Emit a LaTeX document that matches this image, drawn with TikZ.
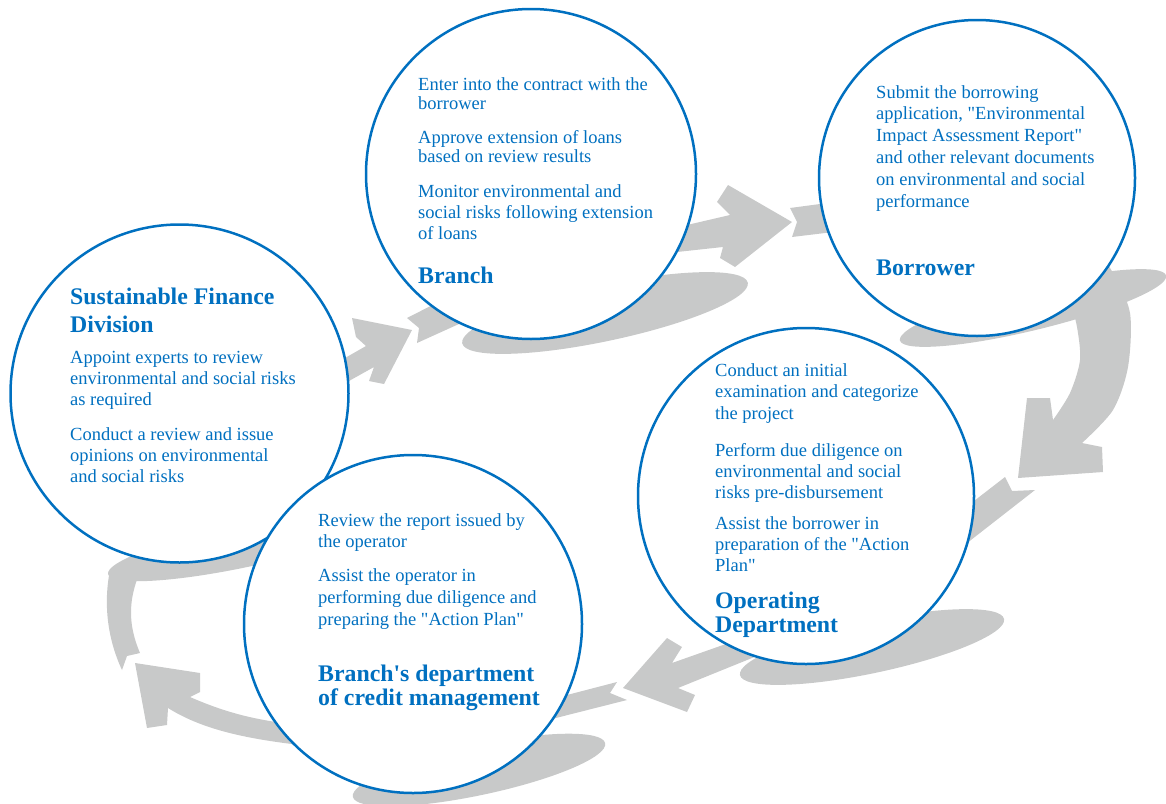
\documentclass[tikz,border=0pt]{standalone}
\usepackage{fontspec}
\setmainfont{Liberation Serif}[Ligatures=TeXOff]
\definecolor{cblue}{RGB}{0,112,192}
\definecolor{cgray}{RGB}{200,201,201}
\begin{document}
\begin{tikzpicture}[x=1pt,y=-1pt,
  greyfill/.style={fill=cgray, draw=none},
  ring/.style={draw=cblue, line width=2.5pt, fill=white},
  txtbody/.style={anchor=base west, inner sep=0pt, align=left, text=cblue, font=\fontsize{18.5}{21}\selectfont},
  txthead/.style={anchor=base west, inner sep=0pt, align=left, text=cblue, font=\bfseries\fontsize{23.8}{26}\selectfont}]
\useasboundingbox (0,0) rectangle (1166,803);

% shadows
\fill[greyfill, rotate around={12:(605,313)}] (605,313) ellipse [x radius=146, y radius=28];
\fill[greyfill, rotate around={13.7:(1033,308)}] (1033,308) ellipse [x radius=137, y radius=22];
\fill[greyfill, rotate around={12:(872,647)}] (872,647) ellipse [x radius=135, y radius=26];
\fill[greyfill, rotate around={12:(479,770)}] (479,770) ellipse [x radius=129, y radius=25];
\fill[greyfill, rotate around={12:(245,545)}] (245,545) ellipse [x radius=140, y radius=22];

% arrow A : SFD -> Branch
\fill[greyfill] (412,330) -- (384,384) -- (369,381) -- (374,367) -- (340,386) -- (338,362) -- (366,346) -- (356,337) -- (352,318) -- cycle;
\fill[greyfill] (407,318) -- (419,328) -- (417,343) -- (470,319) -- (458,292) -- cycle;
% arrow B : Branch -> Borrower
\fill[greyfill] (792,222) -- (735,267) -- (720,258) -- (723,247) -- (677,252) -- (640,262) -- (640,235) -- (687,225) -- (730,215) -- (717,202) -- (728,185) -- cycle;
\fill[greyfill] (790,208) -- (797,222) -- (792,237) -- (850,230) -- (850,200) -- cycle;
% arrow C : Borrower -> Operating
\fill[greyfill] (1018,478) -- (1027,398) -- (1050,398) -- (1053,420)
  -- plot[smooth] coordinates {(1053,420) (1070,393) (1080,360) (1077,327) (1070,300)}
  -- (1100,255)
  -- plot[smooth] coordinates {(1100,255) (1113,273) (1130,313) (1128,367) (1113,410) (1082,443)}
  -- (1102,447) -- (1103,472) -- cycle;
\fill[greyfill] (1005,477) -- (1012,491) -- (1035,490) -- (953,554) -- (943,525) -- cycle;
% arrow D : Operating -> Branch's department
\fill[greyfill] (623,688) -- (667,638) -- (682,647) -- (672,663) -- (723,645) -- (760,632) -- (780,647) -- (752,658) -- (678,688) -- (695,695) -- (687,712) -- cycle;
\fill[greyfill] (617,682) -- (610,693) -- (627,700) -- (540,722) -- (540,702) -- cycle;
% arrow E : Branch's department -> SFD
\fill[greyfill] (135,663) -- (200,673) -- (200,692) -- (190,697) .. controls (220,710) and (250,720) .. (300,725) -- (300,745) .. controls (240,738) and (200,728) .. (168,708) -- (167,725) -- (147,728) -- cycle;
\fill[greyfill] (122,670) -- (127,656) -- (140,653) .. controls (128,625) and (128,600) .. (140,572) -- (110,570) .. controls (103,605) and (108,640) .. (122,670) -- cycle;

% circles
\draw[ring] (531,174) circle [radius=165];
\draw[ring] (977,178) circle [radius=158];
\draw[ring] (806,496) circle [radius=168];
\draw[ring] (179.5,393.5) circle [radius=169];
\draw[ring] (413,624) circle [radius=169];

% Branch
\node[txtbody, font=\fontsize{18.5}{19}\selectfont] (br1) at (418,109) {Enter into the contract with the\\borrower};
\node[txtbody, font=\fontsize{18.5}{19}\selectfont] (br2) at (418,162) {Approve extension of loans\\based on review results};
\node[txtbody] (br3) at (418,239) {Monitor environmental and\\social risks following extension\\of loans};
\node[txthead] (brh) at (418,283) {Branch};

% Borrower
\node[txtbody, font=\fontsize{18.5}{21.8}\selectfont] (bo1) at (876,207) {Submit the borrowing\\application, "Environmental\\Impact Assessment Report"\\and other relevant documents\\on environmental and social\\performance};
\node[txthead] (boh) at (876,275) {Borrower};

% Sustainable Finance Division
\node[txthead, font=\bfseries\fontsize{23.8}{28}\selectfont] (sfh) at (70,332) {Sustainable Finance\\Division};
\node[txtbody] (sf1) at (70,405) {Appoint experts to review\\environmental and social risks\\as required};
\node[txtbody] (sf2) at (70,482) {Conduct a review and issue\\opinions on environmental\\and social risks};

% Operating Department
\node[txtbody, font=\fontsize{18.5}{21.5}\selectfont] (op1) at (715,419) {Conduct an initial\\examination and categorize\\the project};
\node[txtbody] (op2) at (715,498) {Perform due diligence on\\environmental and social\\risks pre-disbursement};
\node[txtbody] (op3) at (715,571) {Assist the borrower in\\preparation of the "Action\\Plan"};
\node[txthead, font=\bfseries\fontsize{23.8}{24}\selectfont] (oph) at (715,632) {Operating\\Department};

% Branch's department of credit management
\node[txtbody] (bd1) at (318,547) {Review the report issued by\\the operator};
\node[txtbody, font=\fontsize{18.5}{22}\selectfont] (bd2) at (318,625) {Assist the operator in\\performing due diligence and\\preparing the "Action Plan"};
\node[txthead, font=\bfseries\fontsize{23.8}{24}\selectfont] (bdh) at (318,705) {Branch's department\\of credit management};
\end{tikzpicture}
\end{document}
